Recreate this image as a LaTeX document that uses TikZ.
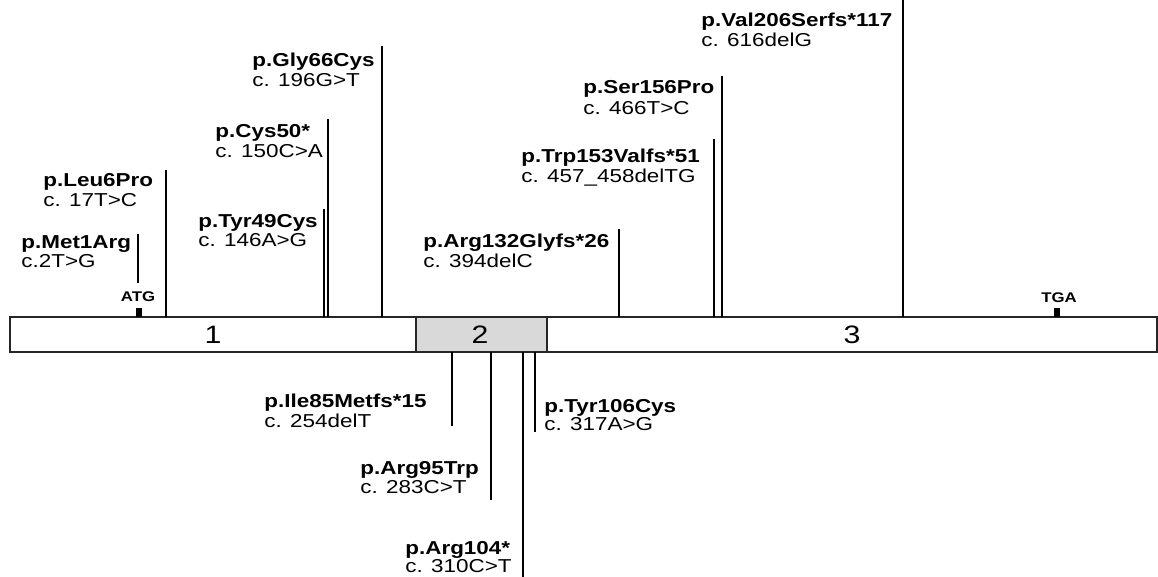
\documentclass[tikz,border=0pt]{standalone}
\usepackage{fontspec}
\setmainfont[FakeStretch=1.2]{Liberation Sans}
\begin{document}
\begin{tikzpicture}[x=0.5pt,y=-0.5pt,
  pb/.style={anchor=base west,inner sep=0,text=black,font=\fontsize{9.35}{10}\selectfont\bfseries},
  pc/.style={anchor=base west,inner sep=0,text=black,font=\fontsize{9.35}{10}\selectfont},
  ex/.style={anchor=base,inner sep=0,font=\fontsize{12.6}{14}\selectfont},
  cod/.style={anchor=base,inner sep=0,font=\fontsize{7}{8}\selectfont\bfseries},
  mut/.style={line width=1pt,black},
  exon/.style={draw=black!85,line width=0.7pt}]
\useasboundingbox (0,0) rectangle (1158,577);
% exons
\draw[exon,fill=white] (10,317) rectangle (416,352);
\draw[exon,fill=black!15] (416,317) rectangle (547,352);
\draw[exon,fill=white] (547,317) rectangle (1157,352);
\node[ex] (e1) at (213,344) {1};
\node[ex] (e2) at (480,344) {2};
\node[ex] (e3) at (852,344) {3};
% start / stop codons
\fill[black] (136,308) rectangle (142,317);
\node[cod] (atg) at (138,302) {ATG};
\fill[black] (1054,308) rectangle (1060,317);
\node[cod] (tga) at (1059,303) {TGA};
% mutations above
\coordinate (m1a) at (138,234); \coordinate (m1b) at (138,283);
\coordinate (m2a) at (166,170); \coordinate (m2b) at (166,317);
\coordinate (m3a) at (324,209); \coordinate (m3b) at (324,317);
\coordinate (m4a) at (328,119); \coordinate (m4b) at (328,317);
\coordinate (m5a) at (382,46);  \coordinate (m5b) at (382,317);
\coordinate (m6a) at (619,229); \coordinate (m6b) at (619,317);
\coordinate (m7a) at (714,139); \coordinate (m7b) at (714,317);
\coordinate (m8a) at (722,76);  \coordinate (m8b) at (722,317);
\coordinate (m9a) at (903,0);   \coordinate (m9b) at (903,317);
\foreach \i in {1,...,9} {\draw[mut] (m\i a) -- (m\i b);}
% mutations below
\coordinate (n1a) at (452,352); \coordinate (n1b) at (452,426);
\coordinate (n2a) at (491,352); \coordinate (n2b) at (491,500);
\coordinate (n3a) at (523,352); \coordinate (n3b) at (523,577);
\coordinate (n4a) at (535,352); \coordinate (n4b) at (535,432);
\foreach \i in {1,...,4} {\draw[mut] (n\i a) -- (n\i b);}
% labels above
\node[pb] (l1p) at (21,249) {p.Met1Arg};
\node[pc] (l1c) at (21,268) {c.2T>G};
\node[pb] (l2p) at (43,187) {p.Leu6Pro};
\node[pc] (l2c) at (43,207) {c. 17T>C};
\node[pb] (l3p) at (198,228) {p.Tyr49Cys};
\node[pc] (l3c) at (198,247) {c. 146A>G};
\node[pb] (l4p) at (215,138) {p.Cys50*};
\node[pc] (l4c) at (215,158) {c. 150C>A};
\node[pb] (l5p) at (252,67) {p.Gly66Cys};
\node[pc] (l5c) at (252,87) {c. 196G>T};
\node[pb] (l6p) at (423,248) {p.Arg132Glyfs*26};
\node[pc] (l6c) at (423,268) {c. 394delC};
\node[pb] (l7p) at (521,163) {p.Trp153Valfs*51};
\node[pc] (l7c) at (521,183) {c. 457\_458delTG};
\node[pb] (l8p) at (583,94) {p.Ser156Pro};
\node[pc] (l8c) at (583,115) {c. 466T>C};
\node[pb] (l9p) at (701,27) {p.Val206Serfs*117};
\node[pc] (l9c) at (701,47) {c. 616delG};
% labels below
\node[pb] (k1p) at (264,408) {p.Ile85Metfs*15};
\node[pc] (k1c) at (264,428) {c. 254delT};
\node[pb] (k2p) at (360,474) {p.Arg95Trp};
\node[pc] (k2c) at (360,494) {c. 283C>T};
\node[pb] (k3p) at (405,554) {p.Arg104*};
\node[pc] (k3c) at (405,573) {c. 310C>T};
\node[pb] (k4p) at (544,413) {p.Tyr106Cys};
\node[pc] (k4c) at (544,431) {c. 317A>G};
\end{tikzpicture}
\end{document}
